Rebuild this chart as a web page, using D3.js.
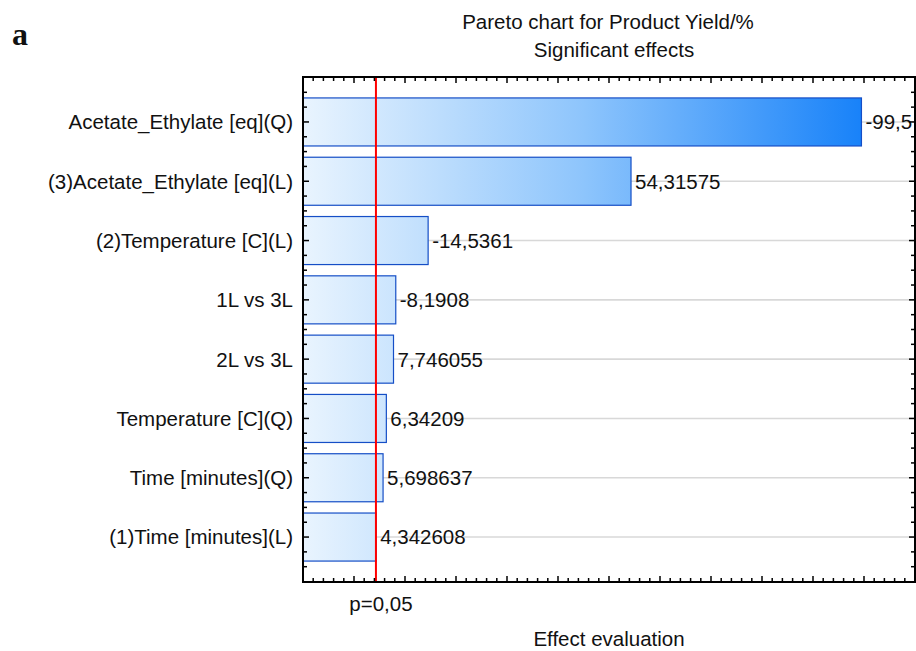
<!DOCTYPE html>
<html>
<head>
<meta charset="utf-8">
<script src="https://cdn.jsdelivr.net/npm/d3@7"></script>
<style>
  html, body { margin: 0; padding: 0; background: #fff; }
  svg { display: block; }
  text { font-family: "Liberation Sans", Arial, sans-serif; fill: #111; font-size: 20.5px; }
</style>
</head>
<body>
<svg id="chart" width="916" height="651"></svg>
<script>
// Effect names, ordered by absolute standardized effect
const effects = [
  "Acetate_Ethylate [eq](Q)",
  "(3)Acetate_Ethylate [eq](L)",
  "(2)Temperature [C](L)",
  "1L vs 3L",
  "2L vs 3L",
  "Temperature [C](Q)",
  "Time [minutes](Q)",
  "(1)Time [minutes](L)"
];
// Standardized effect estimates (t-values)
const estimates = [-99.5, 54.31575, -14.5361, -8.1908, 7.746055, 6.34209, 5.698637, 4.342608];
// Critical t for p = 0.05
const critical = 4.302653;
const criticalLabel = "p=0,05";
const axisDomain = [-10, 110];

const svg = d3.select("#chart");
const plotL = 303, plotR = 915, plotT = 77, plotB = 582;

const x = d3.scaleLinear().domain(axisDomain).range([plotL, plotR]);
const y = d3.scaleBand().domain(effects).range([plotT, plotB])
  .paddingInner(0.19).paddingOuter(0.353);

const fmt = v => String(v).replace(".", ",");

// gradient fill shared across bars in user space
const defs = svg.append("defs");
const grad = defs.append("linearGradient")
  .attr("id", "barFill").attr("gradientUnits", "userSpaceOnUse")
  .attr("x1", x(axisDomain[0])).attr("x2", x(Math.abs(estimates[0])))
  .attr("y1", 0).attr("y2", 0);
grad.append("stop").attr("offset", 0).attr("stop-color", "#e9f4fe");
grad.append("stop").attr("offset", 0.5).attr("stop-color", "#8ec5fc");
grad.append("stop").attr("offset", 1).attr("stop-color", "#1882f9");
defs.append("clipPath").attr("id", "plotClip")
  .append("rect").attr("x", plotL).attr("y", plotT).attr("width", plotR - plotL - 1).attr("height", plotB - plotT);

// title
svg.append("text").attr("x", 608).attr("y", 29).attr("text-anchor", "middle")
  .text("Pareto chart for Product Yield/%");
svg.append("text").attr("x", 614).attr("y", 57).attr("text-anchor", "middle")
  .text("Significant effects");

// panel letter
svg.append("text").attr("x", 12).attr("y", 45)
  .style("font-family", "'Liberation Serif', 'Times New Roman', serif")
  .style("font-weight", "bold").style("font-size", "32px")
  .text("a");

// gridlines
svg.append("g").selectAll("line").data(effects).join("line")
  .attr("x1", plotL).attr("x2", plotR)
  .attr("y1", d => y(d) + y.bandwidth() / 2).attr("y2", d => y(d) + y.bandwidth() / 2)
  .attr("stroke", "#d8d8d8").attr("stroke-width", 1.6);

// bars
svg.append("g").selectAll("rect").data(effects).join("rect")
  .attr("x", x(axisDomain[0]))
  .attr("y", d => y(d))
  .attr("width", (d, i) => x(Math.abs(estimates[i])) - x(axisDomain[0]))
  .attr("height", y.bandwidth())
  .attr("fill", "url(#barFill)")
  .attr("stroke", "#154ec6").attr("stroke-width", 1.2);

// value labels
svg.append("g").attr("clip-path", "url(#plotClip)")
  .selectAll("text").data(effects).join("text")
  .attr("x", (d, i) => x(Math.abs(estimates[i])) + 4)
  .attr("y", d => y(d) + y.bandwidth() / 2)
  .attr("dy", "0.36em")
  .text((d, i) => fmt(estimates[i]));

// category labels
svg.append("g").selectAll("text").data(effects).join("text")
  .attr("x", plotL - 10)
  .attr("y", d => y(d) + y.bandwidth() / 2)
  .attr("dy", "0.36em")
  .attr("text-anchor", "end")
  .text(d => d);

// critical value line
svg.append("line")
  .attr("x1", x(critical)).attr("x2", x(critical))
  .attr("y1", plotT).attr("y2", plotB)
  .attr("stroke", "#ff0000").attr("stroke-width", 2);

// frame
svg.append("rect").attr("x", plotL).attr("y", plotT)
  .attr("width", plotR - plotL).attr("height", plotB - plotT)
  .attr("fill", "none").attr("stroke", "#000").attr("stroke-width", 2);

// inward ticks along horizontal edges
const minorX = d3.range(axisDomain[0], axisDomain[1] + 0.001, 2);
const tickG = svg.append("g").attr("stroke", "#000").attr("stroke-width", 1.5);
[plotT, plotB].forEach((edge, k) => {
  const dir = k === 0 ? 1 : -1;
  tickG.append("g").selectAll("line").data(minorX).join("line")
    .attr("x1", d => x(d)).attr("x2", d => x(d))
    .attr("y1", edge).attr("y2", d => edge + dir * (Math.round(d) % 10 === 0 ? 6 : 4));
});

// inward ticks along vertical edges (quarter-band spacing, major at row centres)
const step = y.step();
const firstC = y(effects[0]) + y.bandwidth() / 2;
const yTicks = [];
for (let k = -3; k <= effects.length * 4 + 2; k++) {
  const yy = firstC + k * step / 4;
  if (yy > plotT + 2 && yy < plotB - 2) yTicks.push({ y: yy, major: k % 4 === 0 });
}
[plotL, plotR].forEach((edge, k) => {
  const dir = k === 0 ? 1 : -1;
  tickG.append("g").selectAll("line").data(yTicks).join("line")
    .attr("x1", edge).attr("x2", d => edge + dir * (d.major ? 6 : 4))
    .attr("y1", d => d.y).attr("y2", d => d.y);
});

// axis annotations
svg.append("text").attr("x", x(critical) + 5).attr("y", 611).attr("text-anchor", "middle")
  .text(criticalLabel);
svg.append("text").attr("x", 609).attr("y", 646).attr("text-anchor", "middle")
  .text("Effect evaluation");
</script>
</body>
</html>
